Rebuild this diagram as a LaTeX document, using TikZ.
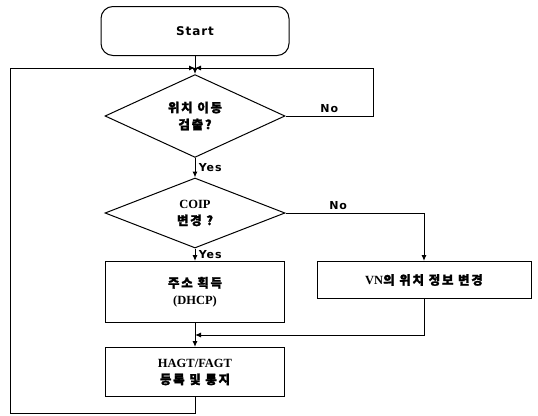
\documentclass[tikz,border=0pt]{standalone}
\usepackage{fontspec}
\setmainfont{Liberation Serif}
\newfontfamily\krfont{Noto Sans CJK KR}[LetterSpace=14,FakeBold=1.5]
\newfontfamily\labfont{DejaVu Sans}[LetterSpace=8]
\newcommand{\ko}[1]{{\krfont\fontsize{12.5}{17}\selectfont #1}}
\usetikzlibrary{shapes.geometric,arrows.meta}

\begin{document}
\begin{tikzpicture}[x=1pt,y=-1pt,line width=1pt,>={Latex[length=6pt,width=5pt]},
  font=\fontsize{12.5}{17}\selectfont\bfseries,
  box/.style={draw,rectangle,minimum width=179pt,inner sep=0pt,align=center},
  test/.style={draw,diamond,minimum width=180pt,minimum height=70pt,inner sep=0pt,align=center},
  lab/.style={font=\fontsize{11}{12}\selectfont\labfont\bfseries}]

\useasboundingbox (0,0) rectangle (538,415);

% Knoten
\node[box,rounded corners=12pt,minimum width=188pt,minimum height=49pt,
  font=\fontsize{12}{12}\selectfont\labfont\bfseries] (start) at (195,31) {Start};
\node[test] (detect) at (195,116) {\ko{위치 이동}\\\ko{검출?}};
\node[test] (coip) at (195,213) {COIP\\\ko{변경 ?}};
\node[box,minimum height=61pt] (addr) at (195,292) {\ko{주소 획득}\\(DHCP)};
\node[box,minimum width=214pt,minimum height=37pt] (vn) at (424,280) {VN\ko{의 위치 정보 변경}};
\node[box,minimum height=49pt] (reg) at (195,372) {HAGT/FAGT\\\ko{등록 및 통지}};

\coordinate (j1) at (195,68);
\coordinate (j2) at (195,335);
\coordinate (nr) at (373,68);
\coordinate (bl) at (10,413);

% Verbindungen
\draw[->] (start) -- (detect);
\draw[->] (detect.east) -| node[lab,pos=0.25,above] {No} (nr) -- (j1);
\draw[->] (detect) -- node[lab,right] {Yes} (coip);
\draw[->] (coip.east) -| node[lab,pos=0.19,above] {No} (vn.north);
\draw[->] (coip) -- node[lab,right] {Yes} (addr);
\draw[->] (vn) |- (j2);
\draw[->] (addr) -- (reg);
\draw[->] (reg) |- (bl) |- (j1);

\end{tikzpicture}
\end{document}
